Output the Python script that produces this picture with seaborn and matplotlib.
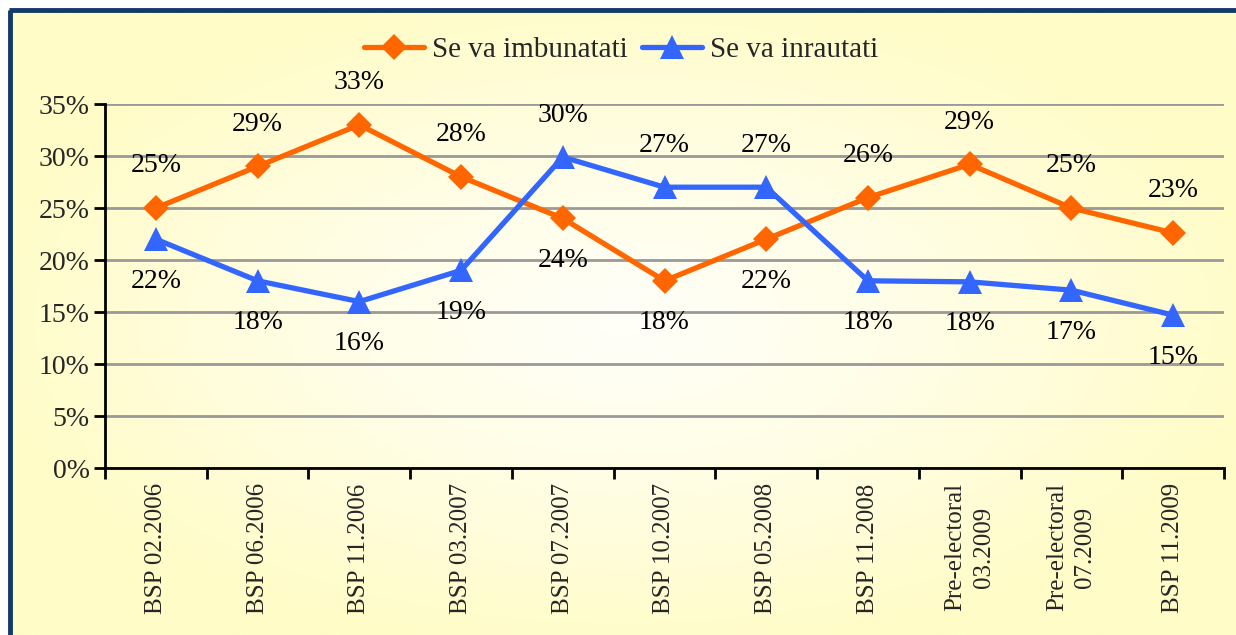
import numpy as np
import pandas as pd
import matplotlib
matplotlib.use("Agg")
import matplotlib.pyplot as plt
from matplotlib.lines import Line2D
import seaborn as sns

categories = ["BSP 02.2006", "BSP 06.2006", "BSP 11.2006", "BSP 03.2007", "BSP 07.2007",
              "BSP 10.2007", "BSP 05.2008", "BSP 11.2008", "Pre-electoral\n03.2009",
              "Pre-electoral\n07.2009", "BSP 11.2009"]
improve = [25, 29, 33, 28, 24, 18, 22, 26, 29.2, 25, 22.6]
worse = [22, 18, 16, 19, 29.9, 27, 27, 18, 17.9, 17.1, 14.7]
improve_labels = ["25%", "29%", "33%", "28%", "24%", "18%", "22%", "26%", "29%", "25%", "23%"]
worse_labels = ["22%", "18%", "16%", "19%", "30%", "27%", "27%", "18%", "18%", "17%", "15%"]
# +1 = label above point, -1 = below
improve_side = [1, 1, 1, 1, -1, -1, -1, 1, 1, 1, 1]
worse_side = [-1, -1, -1, -1, 1, 1, 1, -1, -1, -1, -1]
yticks = [0, 5, 10, 15, 20, 25, 30, 35]
series_names = ["Se va imbunatati", "Se va inrautati"]

ORANGE = "#FF6600"
BLUE = "#3366FF"

sns.set_theme(style="white")
plt.rcParams['font.family'] = ['Liberation Serif', 'DejaVu Serif']

W, H = 1236, 635
fig = plt.figure(figsize=(W / 100, H / 100), dpi=100)
fig.patch.set_facecolor("white")

# background gradient
bg = fig.add_axes([8 / W, 0, 1 - 8 / W, 1 - 8 / H], zorder=-10)
yy, xx = np.mgrid[0:300, 0:600]
cx, cy = 300, 150
d = np.sqrt(((xx - cx) / 300.0) ** 2 + ((yy - cy) / 150.0) ** 2)
t = np.clip(d / 1.05, 0, 1) ** 1.2
edge = np.array([255, 252, 200]) / 255.0
center = np.array([255, 255, 248]) / 255.0
img = center[None, None, :] * (1 - t[..., None]) + edge[None, None, :] * t[..., None]
bg.imshow(img, aspect="auto", extent=[0, 1, 0, 1])
bg.set_axis_off()
# border (top and left)
fig.add_artist(Line2D([10 / W, 10 / W], [0, 1 - 10 / H], transform=fig.transFigure,
                      color="#123A6B", lw=3.5, solid_capstyle="butt"))
fig.add_artist(Line2D([8.5 / W, 1], [1 - 10 / H, 1 - 10 / H], transform=fig.transFigure,
                      color="#123A6B", lw=3.5, solid_capstyle="butt"))

ax = fig.add_axes([105 / W, 1 - 468 / H, (1224 - 105) / W, (468 - 104) / H])
ax.set_facecolor("none")

df = pd.DataFrame({"cat": categories * 2,
                   "val": improve + worse,
                   "series": [series_names[0]] * len(categories) + [series_names[1]] * len(categories)})

sns.lineplot(data=df[df.series == series_names[0]], x="cat", y="val", ax=ax, color=ORANGE,
             lw=3.8, marker="D", markersize=13, markeredgewidth=0, sort=False, zorder=3)
sns.lineplot(data=df[df.series == series_names[1]], x="cat", y="val", ax=ax, color=BLUE,
             lw=3.8, marker="^", markersize=17, markeredgewidth=0, sort=False, zorder=3)

for i in range(len(categories)):
    ax.annotate(improve_labels[i], (i, improve[i]), xytext=(0, 42 * improve_side[i]),
                textcoords="offset pixels", ha="center", va="center", fontsize=20, color="black")
    ax.annotate(worse_labels[i], (i, worse[i]), xytext=(0, 42 * worse_side[i]),
                textcoords="offset pixels", ha="center", va="center", fontsize=20, color="black")

ax.set_xlim(-0.5, len(categories) - 0.5)
ax.set_ylim(0, 35)
ax.set_yticks(yticks)
ax.set_yticklabels([f"{v}%" for v in yticks], fontsize=20)
ax.set_xticks(range(len(categories)))
ax.set_xticklabels(categories, rotation=90, fontsize=18, linespacing=1.35, va="top", ha="center")
ax.set_xticks(np.arange(-0.5, len(categories), 1), minor=True)
ax.tick_params(axis="x", which="major", length=0, pad=11)
ax.tick_params(axis="x", which="minor", length=8, width=2, color="black", direction="out", bottom=True)
ax.tick_params(axis="y", length=8, width=2, color="black", direction="out", left=True, pad=3)
ax.set_xlabel("")
ax.set_ylabel("")
ax.yaxis.grid(True, color="#999999", lw=2)
ax.xaxis.grid(False)
for s in ["top", "right"]:
    ax.spines[s].set_visible(False)
for s in ["left", "bottom"]:
    ax.spines[s].set_color("black")
    ax.spines[s].set_linewidth(2)
ax.set_axisbelow(True)
if ax.get_legend():
    ax.get_legend().remove()

handles = [Line2D([], [], color=ORANGE, lw=3.8, marker="D", markersize=13, markeredgewidth=0),
           Line2D([], [], color=BLUE, lw=3.8, marker="^", markersize=17, markeredgewidth=0)]
fig.legend(handles, series_names, loc="center", bbox_to_anchor=(621 / W, 1 - 50 / H),
           ncol=2, frameon=False, fontsize=21, handlelength=2.05, handletextpad=0.27,
           columnspacing=0.5)

fig.savefig("out.png", dpi=100)
